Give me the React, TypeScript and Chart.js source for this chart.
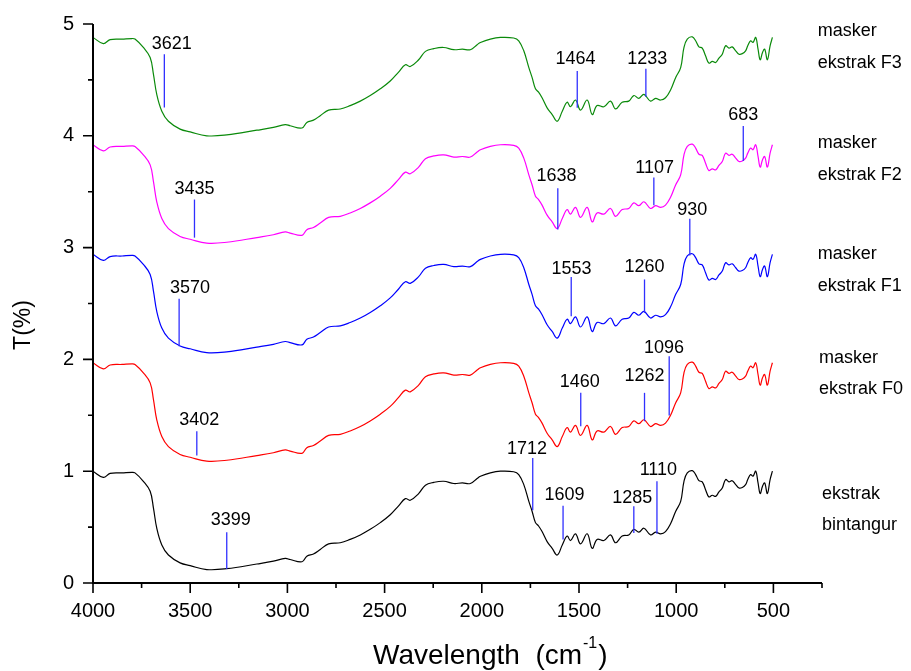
import { useEffect, useRef } from 'react';
import { Chart, registerables } from 'chart.js';

Chart.register(...registerables);

const wavenumber = [4000, 3947, 3912, 3850, 3800, 3784, 3741, 3706, 3689, 3672, 3646, 3612, 3552, 3500, 3415, 3312, 3157, 3072, 3011, 2986, 2925, 2900, 2866, 2831, 2788, 2728, 2677, 2625, 2574, 2522, 2471, 2428, 2393, 2368, 2325, 2290, 2247, 2196, 2144, 2100, 2059, 2024, 2007, 1956, 1904, 1836, 1810, 1784, 1758, 1741, 1724, 1708, 1690, 1664, 1638, 1612, 1586, 1561, 1544, 1518, 1492, 1458, 1432, 1407, 1372, 1338, 1312, 1278, 1244, 1218, 1192, 1166, 1132, 1106, 1080, 1055, 1029, 1003, 977, 960, 943, 917, 900, 883, 866, 849, 832, 814, 797, 780, 763, 746, 729, 712, 694, 677, 660, 643, 632, 617, 605, 591, 579, 568, 556, 545, 531, 517, 505];

const ekstrakBintangur = [1.0, 0.945, 0.98, 0.985, 0.99, 0.985, 0.91, 0.82, 0.67, 0.49, 0.34, 0.25, 0.18, 0.155, 0.12, 0.128, 0.17, 0.195, 0.22, 0.21, 0.19, 0.24, 0.26, 0.30, 0.35, 0.36, 0.39, 0.43, 0.48, 0.54, 0.61, 0.69, 0.755, 0.74, 0.80, 0.875, 0.90, 0.91, 0.89, 0.895, 0.89, 0.935, 0.955, 0.985, 1.0, 0.995, 0.97, 0.88, 0.73, 0.64, 0.54, 0.51, 0.46, 0.37, 0.31, 0.25, 0.34, 0.42, 0.38, 0.44, 0.35, 0.44, 0.31, 0.39, 0.38, 0.43, 0.36, 0.42, 0.43, 0.48, 0.455, 0.49, 0.43, 0.455, 0.44, 0.46, 0.53, 0.64, 0.73, 0.91, 0.985, 1.005, 0.97, 0.915, 0.905, 0.835, 0.77, 0.785, 0.775, 0.815, 0.85, 0.925, 0.905, 0.915, 0.88, 0.85, 0.855, 0.88, 0.925, 0.97, 0.955, 1.0, 0.895, 0.80, 0.865, 0.895, 0.80, 0.925, 1.0];

const maskerF0 = [1.97, 1.915, 1.95, 1.955, 1.96, 1.955, 1.88, 1.79, 1.64, 1.46, 1.31, 1.22, 1.15, 1.125, 1.09, 1.098, 1.14, 1.165, 1.19, 1.18, 1.16, 1.21, 1.23, 1.27, 1.32, 1.33, 1.36, 1.40, 1.45, 1.51, 1.58, 1.66, 1.725, 1.71, 1.77, 1.845, 1.87, 1.88, 1.86, 1.865, 1.86, 1.905, 1.925, 1.955, 1.97, 1.965, 1.94, 1.85, 1.70, 1.61, 1.51, 1.48, 1.43, 1.34, 1.28, 1.22, 1.31, 1.39, 1.35, 1.41, 1.32, 1.41, 1.28, 1.36, 1.35, 1.40, 1.33, 1.39, 1.40, 1.45, 1.425, 1.46, 1.40, 1.425, 1.41, 1.43, 1.50, 1.61, 1.70, 1.88, 1.955, 1.975, 1.94, 1.885, 1.875, 1.805, 1.74, 1.755, 1.745, 1.785, 1.82, 1.895, 1.875, 1.885, 1.85, 1.82, 1.825, 1.85, 1.895, 1.94, 1.925, 1.97, 1.865, 1.77, 1.835, 1.865, 1.77, 1.895, 1.97];

const maskerF1 = [2.94, 2.885, 2.92, 2.925, 2.93, 2.925, 2.85, 2.76, 2.61, 2.43, 2.28, 2.19, 2.12, 2.095, 2.06, 2.068, 2.11, 2.135, 2.16, 2.15, 2.13, 2.18, 2.20, 2.24, 2.29, 2.30, 2.33, 2.37, 2.42, 2.48, 2.55, 2.63, 2.695, 2.68, 2.74, 2.815, 2.84, 2.85, 2.83, 2.835, 2.83, 2.875, 2.895, 2.925, 2.94, 2.935, 2.91, 2.82, 2.67, 2.58, 2.48, 2.45, 2.40, 2.31, 2.25, 2.19, 2.28, 2.36, 2.32, 2.38, 2.29, 2.38, 2.25, 2.33, 2.32, 2.37, 2.30, 2.36, 2.37, 2.42, 2.395, 2.43, 2.37, 2.395, 2.38, 2.40, 2.47, 2.58, 2.67, 2.85, 2.925, 2.945, 2.91, 2.855, 2.845, 2.775, 2.71, 2.725, 2.715, 2.755, 2.79, 2.865, 2.845, 2.855, 2.82, 2.79, 2.795, 2.82, 2.865, 2.91, 2.895, 2.94, 2.835, 2.74, 2.805, 2.835, 2.74, 2.865, 2.94];

const maskerF2 = [3.92, 3.865, 3.90, 3.905, 3.91, 3.905, 3.83, 3.74, 3.59, 3.41, 3.26, 3.17, 3.10, 3.075, 3.04, 3.048, 3.09, 3.115, 3.14, 3.13, 3.11, 3.16, 3.18, 3.22, 3.27, 3.28, 3.31, 3.35, 3.40, 3.46, 3.53, 3.61, 3.675, 3.66, 3.72, 3.795, 3.82, 3.83, 3.81, 3.815, 3.81, 3.855, 3.875, 3.905, 3.92, 3.915, 3.89, 3.80, 3.65, 3.56, 3.46, 3.43, 3.38, 3.29, 3.23, 3.17, 3.26, 3.34, 3.30, 3.36, 3.27, 3.36, 3.23, 3.31, 3.30, 3.35, 3.28, 3.34, 3.35, 3.40, 3.375, 3.41, 3.35, 3.375, 3.36, 3.38, 3.45, 3.56, 3.65, 3.83, 3.905, 3.925, 3.89, 3.835, 3.825, 3.755, 3.69, 3.705, 3.695, 3.735, 3.77, 3.845, 3.825, 3.835, 3.80, 3.77, 3.775, 3.80, 3.845, 3.89, 3.875, 3.92, 3.815, 3.72, 3.785, 3.815, 3.72, 3.845, 3.92];

const maskerF3 = [4.88, 4.825, 4.86, 4.865, 4.87, 4.865, 4.79, 4.70, 4.55, 4.37, 4.22, 4.13, 4.06, 4.035, 4.00, 4.008, 4.05, 4.075, 4.10, 4.09, 4.07, 4.12, 4.14, 4.18, 4.23, 4.24, 4.27, 4.31, 4.36, 4.42, 4.49, 4.57, 4.635, 4.62, 4.68, 4.755, 4.78, 4.79, 4.77, 4.775, 4.77, 4.815, 4.835, 4.865, 4.88, 4.875, 4.85, 4.76, 4.61, 4.52, 4.42, 4.39, 4.34, 4.25, 4.19, 4.13, 4.22, 4.30, 4.26, 4.32, 4.23, 4.32, 4.19, 4.27, 4.26, 4.31, 4.24, 4.30, 4.31, 4.36, 4.335, 4.37, 4.31, 4.335, 4.32, 4.34, 4.41, 4.52, 4.61, 4.79, 4.865, 4.885, 4.85, 4.795, 4.785, 4.715, 4.65, 4.665, 4.655, 4.695, 4.73, 4.805, 4.785, 4.795, 4.76, 4.73, 4.735, 4.76, 4.805, 4.85, 4.835, 4.88, 4.775, 4.68, 4.745, 4.775, 4.68, 4.805, 4.88];

const seriesNames = ['ekstrak bintangur', 'masker ekstrak F0', 'masker ekstrak F1', 'masker ekstrak F2', 'masker ekstrak F3'];
const seriesValues = [ekstrakBintangur, maskerF0, maskerF1, maskerF2, maskerF3];
const seriesColors = ['#000000', '#ff0000', '#0000ff', '#ff00ff', '#0a8a0a'];

const xMajorTicks = [4000, 3500, 3000, 2500, 2000, 1500, 1000, 500];
const xMinorTicks = [3750, 3250, 2750, 2250, 1750, 1250, 750, 250];
const yMajorTicks = [0, 1, 2, 3, 4, 5];
const yMinorTicks = [0.5, 1.5, 2.5, 3.5, 4.5];

// peak annotations
const peakLabels = ['3621', '1464', '1233', '683', '1638', '1107', '3435', '3570', '1553', '1260', '930', '3402', '1460', '1262', '1096', '1712', '1609', '1285', '1110', '3399'];
const peakX = [3633, 1509, 1156, 655, 1609, 1115, 3478, 3557, 1540, 1163, 930, 3466, 1491, 1163, 1036, 1738, 1582, 1218, 1099, 3312];
const peakYBottom = [4.253, 4.25, 4.35, 3.775, 3.163, 3.378, 3.089, 2.118, 2.387, 2.417, 2.93, 1.14, 1.402, 1.447, 1.498, 0.65, 0.388, 0.448, 0.441, 0.125];
const peakYTop = [4.73, 4.58, 4.6, 4.088, 3.53, 3.626, 3.43, 2.543, 2.736, 2.715, 3.259, 1.357, 1.701, 1.701, 2.029, 1.119, 0.692, 0.686, 0.91, 0.453];
const peakLabelX = [3595, 1518, 1149, 655, 1616, 1111, 3478, 3501, 1539, 1163, 917, 3453, 1496, 1163, 1063, 1767, 1575, 1226, 1092, 3291];
const peakLabelY = [4.82, 4.685, 4.685, 4.19, 3.64, 3.715, 3.527, 2.641, 2.811, 2.829, 3.336, 1.456, 1.796, 1.85, 2.104, 1.2, 0.79, 0.761, 1.014, 0.567];

// series labels at the right
const sideTexts = ['masker', 'ekstrak F3', 'masker', 'ekstrak F2', 'masker', 'ekstrak F1', 'masker', 'ekstrak F0', 'ekstrak', 'bintangur'];
const sideX = [272, 272, 272, 272, 272, 272, 265, 265, 250, 250];
const sideY = [4.933, 4.649, 3.933, 3.649, 2.939, 2.655, 2.014, 1.737, 0.8, 0.516];

const FONT = 'Arial, "Liberation Sans", Helvetica, sans-serif';

const overlayPlugin = {
  id: 'ftirOverlay',
  afterDatasetsDraw(chart: any) {
    const ctx = chart.ctx;
    const xs = chart.scales.x;
    const ys = chart.scales.y;
    ctx.save();
    ctx.strokeStyle = '#3030ff';
    ctx.lineWidth = 1.3;
    for (let i = 0; i < peakLabels.length; i++) {
      const px = xs.getPixelForValue(peakX[i]);
      ctx.beginPath();
      ctx.moveTo(px, ys.getPixelForValue(peakYBottom[i]));
      ctx.lineTo(px, ys.getPixelForValue(peakYTop[i]));
      ctx.stroke();
    }
    ctx.fillStyle = '#000';
    ctx.font = `18px ${FONT}`;
    ctx.textAlign = 'center';
    ctx.textBaseline = 'middle';
    for (let i = 0; i < peakLabels.length; i++) {
      ctx.fillText(peakLabels[i], xs.getPixelForValue(peakLabelX[i]), ys.getPixelForValue(peakLabelY[i]));
    }
    ctx.font = `18px ${FONT}`;
    ctx.textAlign = 'left';
    for (let i = 0; i < sideTexts.length; i++) {
      ctx.fillText(sideTexts[i], xs.getPixelForValue(sideX[i]), ys.getPixelForValue(sideY[i]));
    }
    ctx.restore();
  },
  afterDraw(chart: any) {
    const ctx = chart.ctx;
    const xs = chart.scales.x;
    const ys = chart.scales.y;
    const { left, right, top, bottom } = chart.chartArea;
    ctx.save();
    ctx.strokeStyle = '#000';
    ctx.lineWidth = 2;
    ctx.beginPath();
    ctx.moveTo(left, top);
    ctx.lineTo(left, bottom);
    ctx.lineTo(right, bottom);
    ctx.stroke();
    ctx.lineWidth = 1.6;
    ctx.beginPath();
    xMajorTicks.forEach((v) => {
      const p = xs.getPixelForValue(v);
      ctx.moveTo(p, bottom);
      ctx.lineTo(p, bottom + 10);
    });
    xMinorTicks.forEach((v) => {
      const p = xs.getPixelForValue(v);
      ctx.moveTo(p, bottom);
      ctx.lineTo(p, bottom + 5);
    });
    yMajorTicks.forEach((v) => {
      const p = ys.getPixelForValue(v);
      ctx.moveTo(left, p);
      ctx.lineTo(left - 10, p);
    });
    yMinorTicks.forEach((v) => {
      const p = ys.getPixelForValue(v);
      ctx.moveTo(left, p);
      ctx.lineTo(left - 5, p);
    });
    ctx.stroke();

    ctx.fillStyle = '#000';
    ctx.font = `20px ${FONT}`;
    ctx.textAlign = 'center';
    ctx.textBaseline = 'middle';
    xMajorTicks.forEach((v) => {
      ctx.fillText(String(v), xs.getPixelForValue(v), bottom + 28);
    });
    ctx.textAlign = 'right';
    yMajorTicks.forEach((v) => {
      ctx.fillText(String(v), left - 19, ys.getPixelForValue(v));
    });

    // x title with superscript
    ctx.textAlign = 'left';
    ctx.textBaseline = 'alphabetic';
    const base = 664;
    const x0 = 373;
    ctx.font = `28px ${FONT}`;
    const t1 = 'Wavelength  (cm';
    const w1 = ctx.measureText(t1).width;
    ctx.fillText(t1, x0, base);
    ctx.font = `16px ${FONT}`;
    const sup = '-1';
    const ws = ctx.measureText(sup).width;
    ctx.fillText(sup, x0 + w1 + 1, base - 16);
    ctx.font = `28px ${FONT}`;
    ctx.fillText(')', x0 + w1 + ws + 2, base);

    // y title
    ctx.save();
    ctx.translate(24, 325);
    ctx.rotate(-Math.PI / 2);
    ctx.textAlign = 'center';
    ctx.textBaseline = 'middle';
    ctx.font = `23px ${FONT}`;
    ctx.fillText('T(%)', 0, 0);
    ctx.restore();
    ctx.restore();
  },
};

export default function App() {
  const canvasRef = useRef<HTMLCanvasElement | null>(null);

  useEffect(() => {
    if (!canvasRef.current) return;
    const datasets = seriesValues.map((vals, si) => ({
      label: seriesNames[si],
      data: wavenumber.map((w, i) => ({ x: w, y: vals[i] })),
      borderColor: seriesColors[si],
      backgroundColor: seriesColors[si],
      borderWidth: 1.2,
      pointRadius: 0,
      fill: false,
      tension: 0.4,
    }));
    const chart = new Chart(canvasRef.current, {
      type: 'line',
      data: { datasets },
      options: {
        animation: false,
        responsive: false,
        events: [],
        layout: { padding: { left: 93, right: 89, top: 24, bottom: 88 } },
        plugins: { legend: { display: false }, tooltip: { enabled: false } },
        scales: {
          x: { type: 'linear', reverse: true, min: 250, max: 4000, display: false },
          y: { type: 'linear', min: 0, max: 5, display: false },
        },
      },
      plugins: [overlayPlugin],
    });
    return () => chart.destroy();
  }, []);

  return (
    <div style={{ position: 'absolute', left: 0, top: 0, width: 911, height: 671, background: '#fff' }}>
      <canvas ref={canvasRef} width={911} height={671} style={{ display: 'block', width: 911, height: 671 }} />
    </div>
  );
}
